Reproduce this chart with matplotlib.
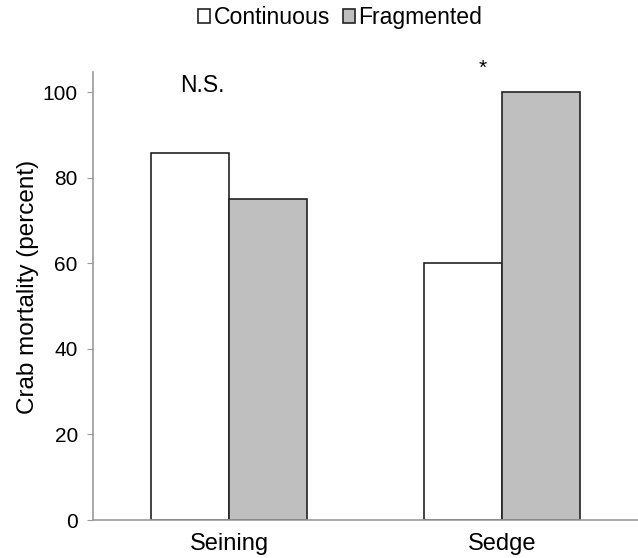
import matplotlib.pyplot as plt
import numpy as np

plt.rcParams['font.family'] = ['Liberation Sans', 'DejaVu Sans']

categories = ["Seining", "Sedge"]
continuous = [85.7, 60.0]
fragmented = [75.0, 100.0]
y_ticks = [0, 20, 40, 60, 80, 100]

fig = plt.figure(figsize=(6.38, 5.58), dpi=100)
ax = fig.add_axes([0.146, 0.068, 0.854, 0.803])

x = np.arange(len(categories))
w = 0.286
b1 = ax.bar(x - w / 2, continuous, w, color="white", edgecolor="#222222", linewidth=1.2, label="Continuous")
b2 = ax.bar(x + w / 2, fragmented, w, color="#bfbfbf", edgecolor="#222222", linewidth=1.2, label="Fragmented")

ax.set_xlim(-0.5, 1.5)
ax.set_ylim(0, 104.7)
ax.set_yticks(y_ticks)
ax.set_xticks(x)
ax.set_xticklabels(categories, fontsize=17)
ax.tick_params(axis="y", labelsize=15, length=4.5, color="#999999", direction="out", pad=6.5)
ax.tick_params(axis="x", length=0, pad=9)
ax.set_ylabel("Crab mortality (percent)", fontsize=17.5, labelpad=1)
ax.yaxis.set_label_coords(-0.1, 0.52)

for s in ["top", "right"]:
    ax.spines[s].set_visible(False)
for s in ["left", "bottom"]:
    ax.spines[s].set_color("#999999")
    ax.spines[s].set_linewidth(1.2)

ax.text(-0.10, 101.6, "N.S.", fontsize=16.5, ha="center", va="center")
ax.text(0.93, 105.5, "*", fontsize=15, ha="center", va="center", clip_on=False)

fig.legend(handles=[b1, b2], loc="center", bbox_to_anchor=(0.533, 0.968), ncol=2, frameon=False,
           fontsize=16.6, handlelength=0.52, handleheight=0.52, handletextpad=0.15, columnspacing=0.55)

fig.savefig("out.png", dpi=100)
